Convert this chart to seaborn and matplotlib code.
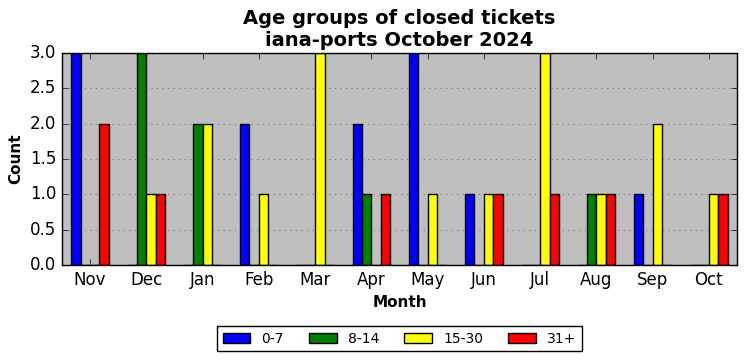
import numpy as np
import pandas as pd
import matplotlib
matplotlib.use('Agg')
import matplotlib.pyplot as plt
import seaborn as sns

# months and age groups
months = ['Nov', 'Dec', 'Jan', 'Feb', 'Mar', 'Apr', 'May', 'Jun', 'Jul', 'Aug', 'Sep', 'Oct']
age_groups = ['0-7', '8-14', '15-30', '31+']
colors = ['blue', 'green', 'yellow', 'red']

# counts per age group
g_0_7 = [3, 0, 0, 2, 0, 2, 3, 1, 0, 0, 1, 0]
g_8_14 = [0, 3, 2, 0, 0, 1, 0, 0, 0, 1, 0, 0]
g_15_30 = [0, 1, 2, 1, 3, 0, 1, 1, 3, 1, 2, 1]
g_31 = [2, 1, 0, 0, 0, 1, 0, 1, 1, 1, 0, 1]

rows = []
for grp, vals in zip(age_groups, [g_0_7, g_8_14, g_15_30, g_31]):
    for m, v in zip(months, vals):
        rows.append({'Month': m, 'Age': grp, 'Count': v})
df = pd.DataFrame(rows)

plt.style.use('classic')
plt.rcParams['font.family'] = 'DejaVu Sans'

fig, ax = plt.subplots(figsize=(7.46, 3.61), dpi=100)
fig.patch.set_facecolor('white')

sns.barplot(data=df, x='Month', y='Count', hue='Age', order=months,
            hue_order=age_groups, palette=colors, width=0.67,
            edgecolor='black', linewidth=1, saturation=1, ax=ax)

ax.set_facecolor('#bfbfbf')
ax.set_xlim(-0.5, 11.5)
ax.set_ylim(0, 3)
ax.set_yticks(np.arange(0, 3.01, 0.5))
ax.yaxis.grid(True, linestyle=':', color='gray', linewidth=0.8)
ax.set_axisbelow(True)
ax.tick_params(labelsize=12)
ax.set_xlabel('Month', fontsize=11, fontweight='bold')
ax.set_ylabel('Count', fontsize=11, fontweight='bold')
ax.set_title('Age groups of closed tickets\niana-ports October 2024',
             fontsize=14, fontweight='bold')

ax.legend(loc='upper center', bbox_to_anchor=(0.5, -0.255), ncol=4,
          fontsize=10, fancybox=False, frameon=True, handlelength=2.0,
          handletextpad=0.8, columnspacing=1.8)

plt.subplots_adjust(left=0.083, right=0.988, top=0.853, bottom=0.266)
plt.savefig('out.png', dpi=100, facecolor='white')
